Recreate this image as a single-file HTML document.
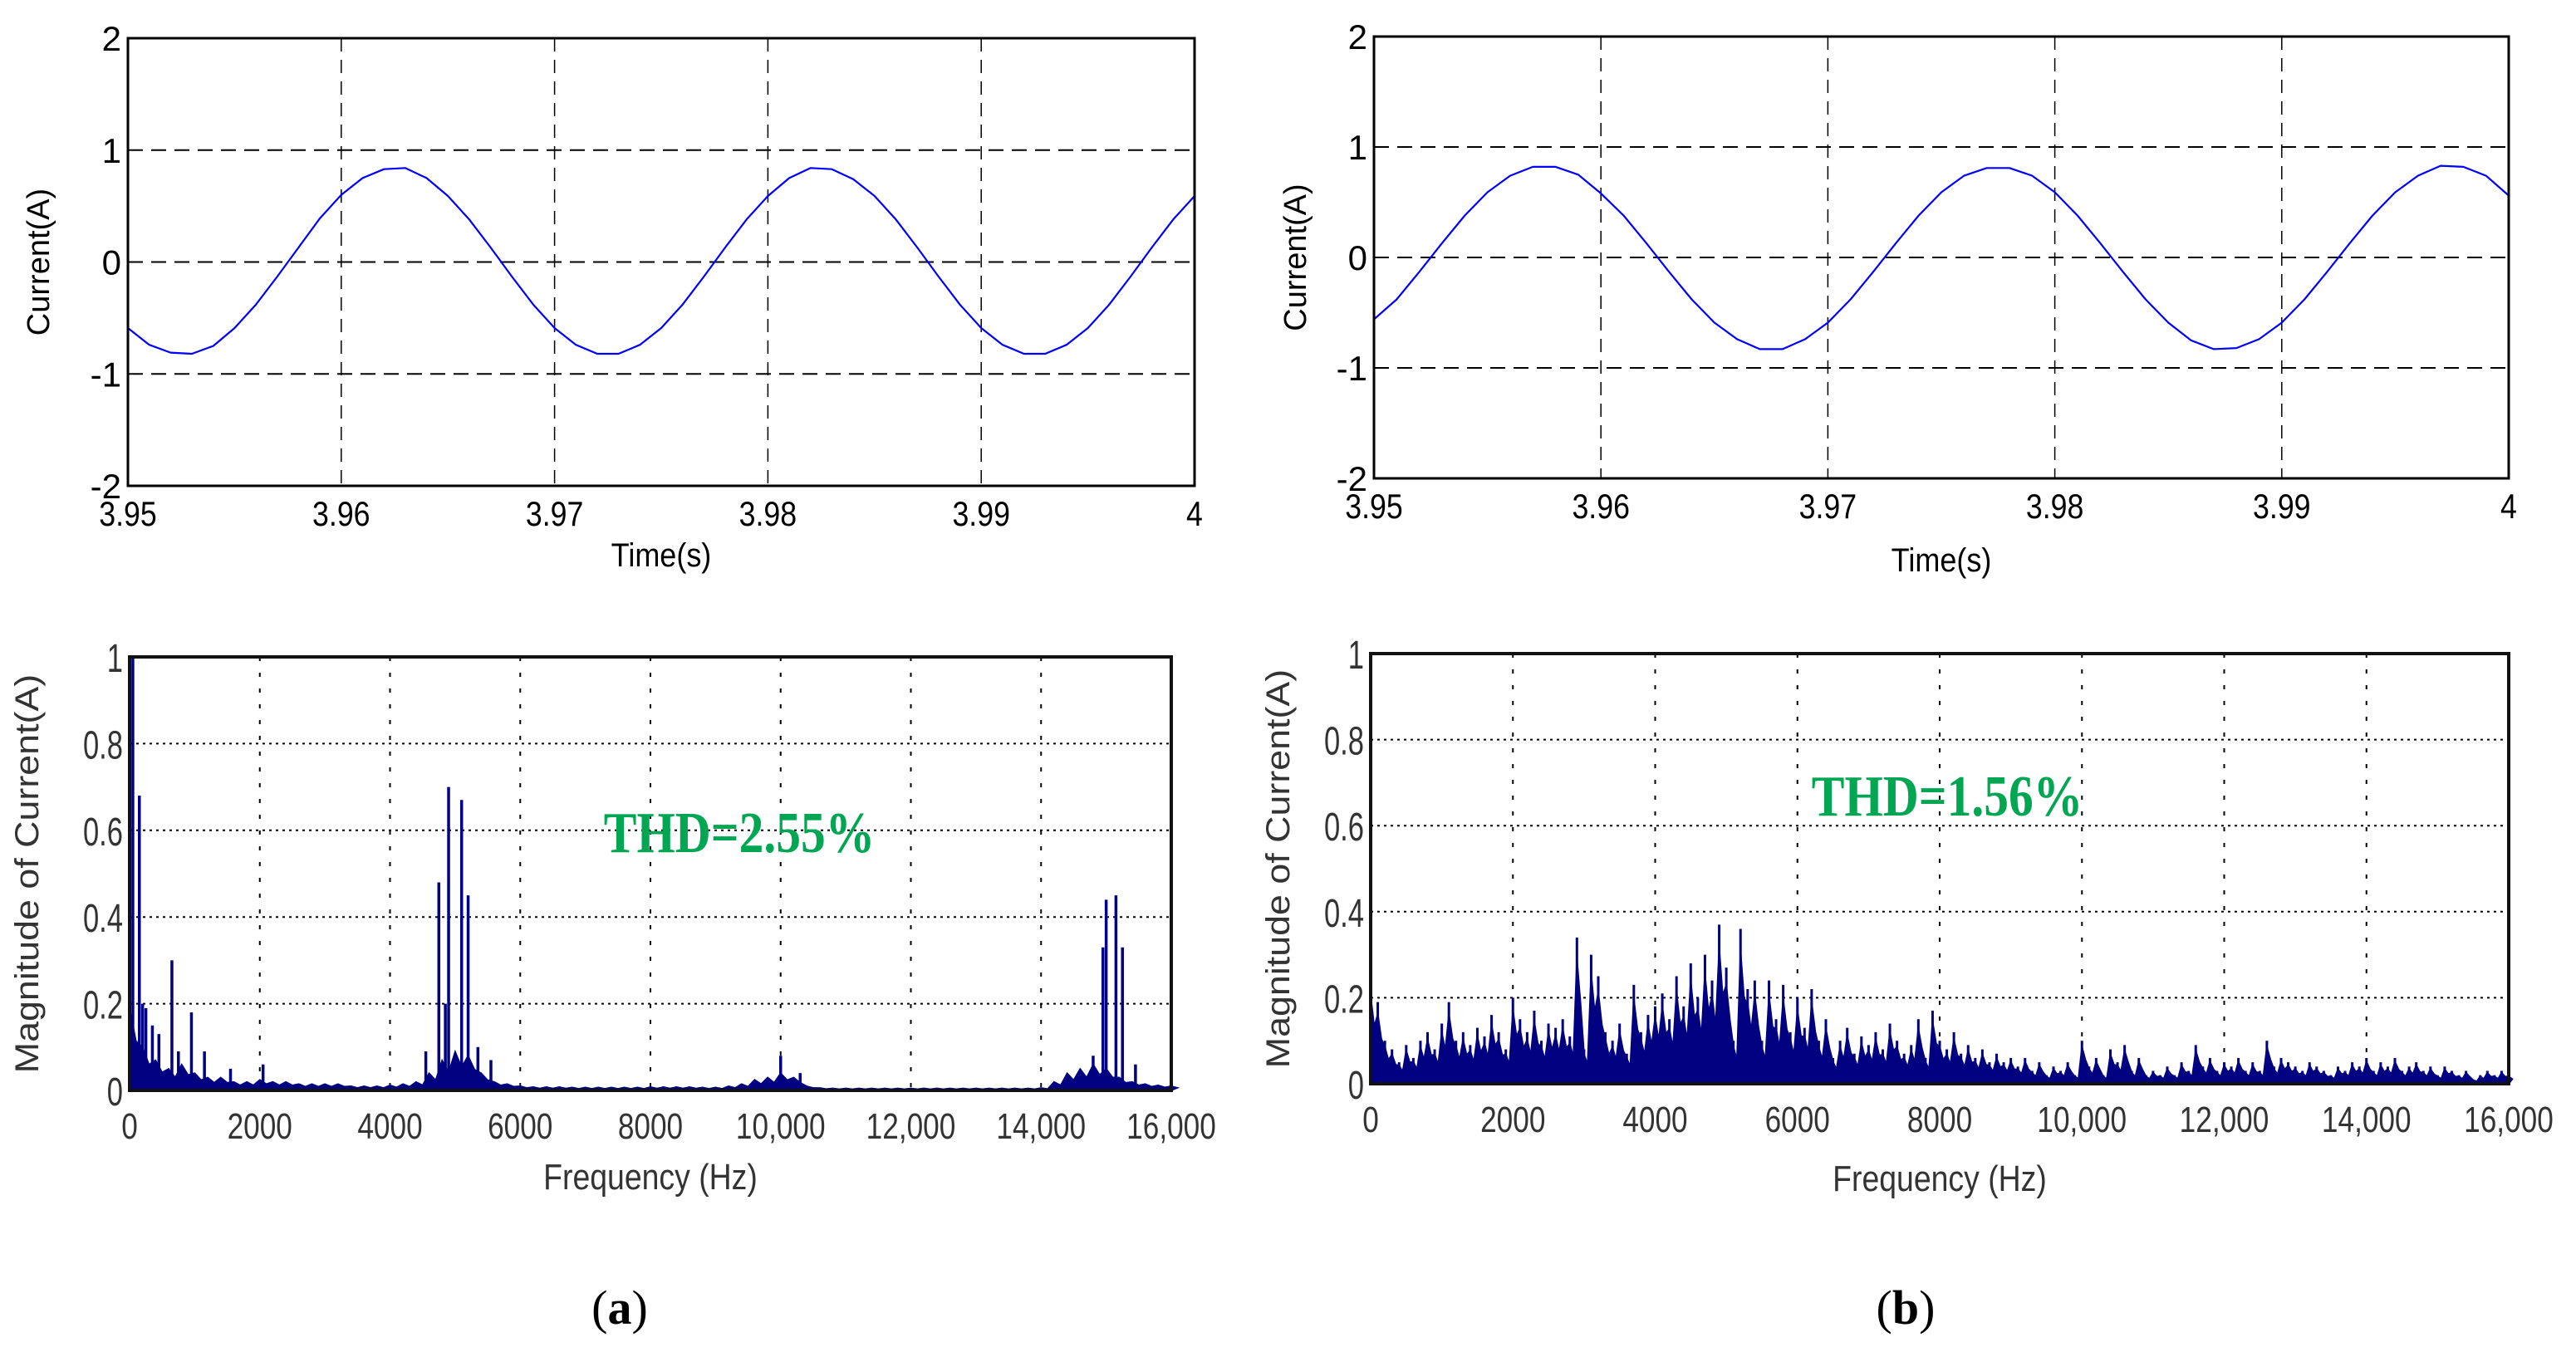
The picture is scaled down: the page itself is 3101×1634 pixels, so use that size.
<!DOCTYPE html>
<html><head><meta charset="utf-8">
<style>
html,body{margin:0;padding:0;background:#fff;}
svg{display:block;}
text{font-family:"Liberation Sans",sans-serif;}
text.serif{font-family:"Liberation Serif",serif;}
</style></head>
<body>
<svg id="fig" width="3101" height="1634" viewBox="0 0 3101 1634" xmlns="http://www.w3.org/2000/svg"></svg>
<script>
// ---- data ----
const timeTicks = ["3.95","3.96","3.97","3.98","3.99","4"];
const currentTicks = [2,1,0,-1,-2];
const freqTicks = ["0","2000","4000","6000","8000","10,000","12,000","14,000","16,000"];
const magTicks = ["0","0.2","0.4","0.6","0.8","1"];
// current samples every 1 ms from 3.95 s to 4.00 s
const currentA = [-0.59,-0.74,-0.81,-0.82,-0.75,-0.59,-0.38,-0.13,0.13,0.39,0.6,0.75,0.83,0.84,0.75,0.59,0.38,0.13,-0.13,-0.38,
 -0.59,-0.74,-0.82,-0.82,-0.74,-0.59,-0.38,-0.13,0.13,0.38,0.59,0.75,0.84,0.83,0.74,0.59,0.38,0.13,-0.13,-0.38,
 -0.59,-0.74,-0.82,-0.82,-0.74,-0.59,-0.38,-0.13,0.13,0.38,0.59];
const currentB = [-0.56,-0.38,-0.13,0.13,0.38,0.59,0.74,0.82,0.82,0.75,0.58,0.38,0.13,-0.13,-0.38,-0.59,-0.74,-0.83,-0.83,-0.74,
 -0.59,-0.38,-0.13,0.13,0.38,0.59,0.74,0.81,0.81,0.74,0.59,0.38,0.13,-0.13,-0.38,-0.59,-0.75,-0.83,-0.82,-0.74,
 -0.59,-0.38,-0.13,0.13,0.38,0.59,0.74,0.83,0.82,0.74,0.56];
// spectrum (a): noise floor every 200 Hz, plus discrete peaks
const floorA = [0.19,0.1,0.07,0.05,0.06,0.04,0.03,0.03,0.02,0.02,0.025,0.02,0.02,0.015,0.015,0.015,0.015,0.01,0.01,0.01,
 0.012,0.015,0.02,0.04,0.07,0.09,0.08,0.04,0.02,0.015,0.01,0.008,0.008,0.008,0.007,0.007,0.007,0.007,0.007,0.007,
 0.008,0.008,0.008,0.008,0.007,0.007,0.01,0.015,0.025,0.03,0.04,0.03,0.01,0.006,0.005,0.005,0.005,0.005,0.005,0.005,
 0.005,0.005,0.005,0.005,0.005,0.005,0.005,0.005,0.005,0.005,0.006,0.02,0.04,0.05,0.06,0.05,0.03,0.02,0.015,0.012,0.01];
const peakFreqA = [50,150,200,250,350,450,650,750,950,1150,1550,2050,4550,4750,4850,4900,5100,5200,5350,5550,10000,10300,14800,14950,15000,15150,15250,15450];
const peakMagA  = [1.0,0.68,0.2,0.19,0.15,0.13,0.3,0.09,0.18,0.09,0.05,0.06,0.09,0.48,0.2,0.7,0.67,0.45,0.1,0.07,0.08,0.04,0.08,0.33,0.44,0.45,0.33,0.06];
// spectrum (b): magnitude every 100 Hz
const specB = [0.24,0.19,0.1,0.08,0.05,0.09,0.06,0.1,0.12,0.08,0.14,0.19,0.1,0.12,0.09,0.13,0.11,0.16,0.12,0.08,
 0.2,0.15,0.12,0.17,0.1,0.14,0.13,0.15,0.11,0.34,0.08,0.3,0.25,0.12,0.1,0.14,0.07,0.23,0.12,0.16,
 0.18,0.21,0.15,0.25,0.18,0.28,0.2,0.3,0.24,0.37,0.27,0.1,0.36,0.22,0.24,0.1,0.24,0.15,0.23,0.12,
 0.2,0.13,0.22,0.1,0.15,0.06,0.1,0.13,0.07,0.11,0.09,0.12,0.08,0.14,0.1,0.07,0.09,0.15,0.06,0.17,
 0.1,0.08,0.12,0.07,0.09,0.06,0.08,0.05,0.07,0.05,0.06,0.04,0.06,0.03,0.05,0.02,0.04,0.03,0.05,0.02,
 0.1,0.04,0.06,0.02,0.08,0.05,0.09,0.03,0.06,0.02,0.03,0.02,0.04,0.02,0.05,0.03,0.09,0.04,0.06,0.03,
 0.05,0.04,0.06,0.03,0.05,0.03,0.1,0.04,0.06,0.05,0.04,0.03,0.05,0.04,0.03,0.02,0.04,0.03,0.05,0.04,
 0.06,0.03,0.05,0.04,0.06,0.03,0.04,0.05,0.03,0.04,0.02,0.04,0.03,0.02,0.03,0.01,0.02,0.03,0.02,0.03,0.02];

const NS="http://www.w3.org/2000/svg";
const svg=document.getElementById('fig');
function el(tag,attrs,parent){const e=document.createElementNS(NS,tag);for(const k in attrs)e.setAttribute(k,attrs[k]);(parent||svg).appendChild(e);return e;}
function txt(s,x,y,size,parent,extra){const t=el('text',Object.assign({x:x,y:y,'font-size':size,'text-anchor':'middle'},extra||{}),parent);t.textContent=s;return t;}

function timePlot(name,box,data,ylabX,xlabY){
  const g=el('g',{});
  
  
  const sx=v=>box.l+(v-3.95)/0.05*(box.r-box.l);
  const sy=v=>box.t+(2-v)/4*(box.b-box.t);
  timeTicks.forEach((s,i)=>{const x=sx(3.95+i*0.01);
    if(i>0&&i<5){const gl=el('line',{x1:x,x2:x,y1:box.t,y2:box.b,stroke:'#000','stroke-width':1.5,'stroke-dasharray':'16,10'},g);
      }
    const t=txt(s,x,box.b+48,42,g,{transform:`translate(${x},0) scale(0.85,1) translate(${-x},0)`});
    });
  currentTicks.forEach(v=>{const y=sy(v);
    if(v>-2&&v<2){const gl=el('line',{x1:box.l,x2:box.r,y1:y,y2:y,stroke:'#000','stroke-width':2,'stroke-dasharray':'18,10'},g);
      }
    const t=txt(String(v),box.l-8,y+15,42,g,{'text-anchor':'end'});
    });
  const pts=data.map((v,i)=>sx(3.95+i*0.001).toFixed(1)+','+sy(v).toFixed(1)).join(' ');
  const line=el('polyline',{points:pts,fill:'none',stroke:'#0000ff','stroke-width':2.2,'stroke-linejoin':'round'},g);
  
  const fr=el('rect',{x:box.l,y:box.t,width:box.r-box.l,height:box.b-box.t,fill:'none',stroke:'#000','stroke-width':3},g);
  
  const xl=txt('Time(s)',(box.l+box.r)/2,xlabY,40,g,{transform:`translate(${(box.l+box.r)/2},0) scale(0.9,1) translate(${-(box.l+box.r)/2},0)`});
  
  const cy=(box.t+box.b)/2;
  const yl=txt('Current(A)',ylabX,cy,38,g,{transform:`rotate(-90 ${ylabX} ${cy})`});
  
}

function specPlot(name,box,xlabY,ylabX,thd,thdX,thdY){
  const g=el('g',{});
  
  
  const sx=f=>box.l+f/16000*(box.r-box.l);
  const sy=v=>box.b-v*(box.b-box.t);
  freqTicks.forEach((s,i)=>{const x=sx(i*2000);
    if(i>0&&i<8){const gl=el('line',{x1:x,x2:x,y1:box.t,y2:box.b,stroke:'#000','stroke-width':2,'stroke-dasharray':'5,14'},g);
      }
    const t=txt(s,x,box.b+58,44,g,{fill:'#333',transform:`translate(${x},0) scale(0.8,1) translate(${-x},0)`});
    });
  magTicks.forEach((s,i)=>{const y=sy(i*0.2);
    if(i>0&&i<5){const gl=el('line',{x1:box.l,x2:box.r,y1:y,y2:y,stroke:'#000','stroke-width':2,'stroke-dasharray':'3,5'},g);
      }
    const t=txt(s,box.l-8,y+18,48,g,{'text-anchor':'end',fill:'#333',transform:`translate(${box.l-8},0) scale(0.72,1) translate(${-(box.l-8)},0)`});
    });
  const fr=el('rect',{x:box.l,y:box.t,width:box.r-box.l,height:box.b-box.t,fill:'none',stroke:'#111','stroke-width':4},g);
  
  const xl=txt('Frequency (Hz)',(box.l+box.r)/2,xlabY,44,g,{fill:'#333',transform:`translate(${(box.l+box.r)/2},0) scale(0.85,1) translate(${-(box.l+box.r)/2},0)`});
  
  const cy=(box.t+box.b)/2;
  const yl=txt('Magnitude of Current(A)',ylabX,cy,40,g,{fill:'#333',transform:`rotate(-90 ${ylabX} ${cy}) translate(${ylabX},${cy}) scale(1.12,1) translate(${-ylabX},${-cy})`});
  
  const th=txt(thd,thdX,thdY,70,g,{class:'serif',fill:'#00a651','font-weight':'bold',transform:`translate(${thdX},0) scale(0.85,1) translate(${-thdX},0)`});
  
  return {g,sx,sy};
}

// top plots
timePlot('current-plot-a',{l:154,r:1438,t:46,b:585},currentA,59,682);
timePlot('current-plot-b',{l:1654,r:3020,t:44,b:576},currentB,1572,688);

// spectrum a
(function(){
  const p=specPlot('spectrum-plot-a',{l:156,r:1410,t:791,b:1313},1432,46,'THD=2.55%',890,1026);
  let d='M'+p.sx(0)+','+p.sy(0);
  floorA.forEach((v,i)=>{d+=' L'+p.sx(i*200).toFixed(1)+','+p.sy(v).toFixed(1)+' L'+p.sx(i*200+100).toFixed(1)+','+p.sy(v*0.6).toFixed(1);});
  d+=' L'+p.sx(16000)+','+p.sy(0)+' Z';
  const a=el('path',{d:d,fill:'#000080',stroke:'#000080','stroke-width':1.5},p.g);
  
  peakFreqA.forEach((f,i)=>{const x=p.sx(f);
    const l=el('line',{x1:x,x2:x,y1:p.sy(0),y2:p.sy(peakMagA[i]),stroke:'#000080','stroke-width':3.5},p.g);
    });
  p.g.appendChild(p.g.querySelector('rect'));
})();
// spectrum b
(function(){
  const p=specPlot('spectrum-plot-b',{l:1650,r:3020,t:787,b:1305},1434,1552,'THD=1.56%',2344,982);
  let d='M'+p.sx(0)+','+p.sy(0);
  specB.forEach((v,i)=>{d+=' L'+p.sx(i*100).toFixed(1)+','+p.sy(v*0.85).toFixed(1)+' L'+p.sx(i*100+50).toFixed(1)+','+p.sy(v*0.55).toFixed(1);});
  d+=' L'+p.sx(16000)+','+p.sy(0)+' Z';
  const a=el('path',{d:d,fill:'#000080',stroke:'#000080','stroke-width':2},p.g);
  
  specB.forEach((v,i)=>{const x=p.sx(i*100);
    const l=el('line',{x1:x,x2:x,y1:p.sy(0),y2:p.sy(v),stroke:'#000080','stroke-width':3},p.g);
    });
  p.g.appendChild(p.g.querySelector('rect'));
})();

// panel labels
[['a',746],['b',2294]].forEach(([s,x])=>{
  const t=el('text',{x:x,y:1594,'font-size':58,'text-anchor':'middle',class:'serif'});
  t.appendChild(document.createTextNode('('));
  const b=el('tspan',{'font-weight':'bold'},t); b.textContent=s;
  t.appendChild(document.createTextNode(')'));
  
  
});
</script>
</body></html>
